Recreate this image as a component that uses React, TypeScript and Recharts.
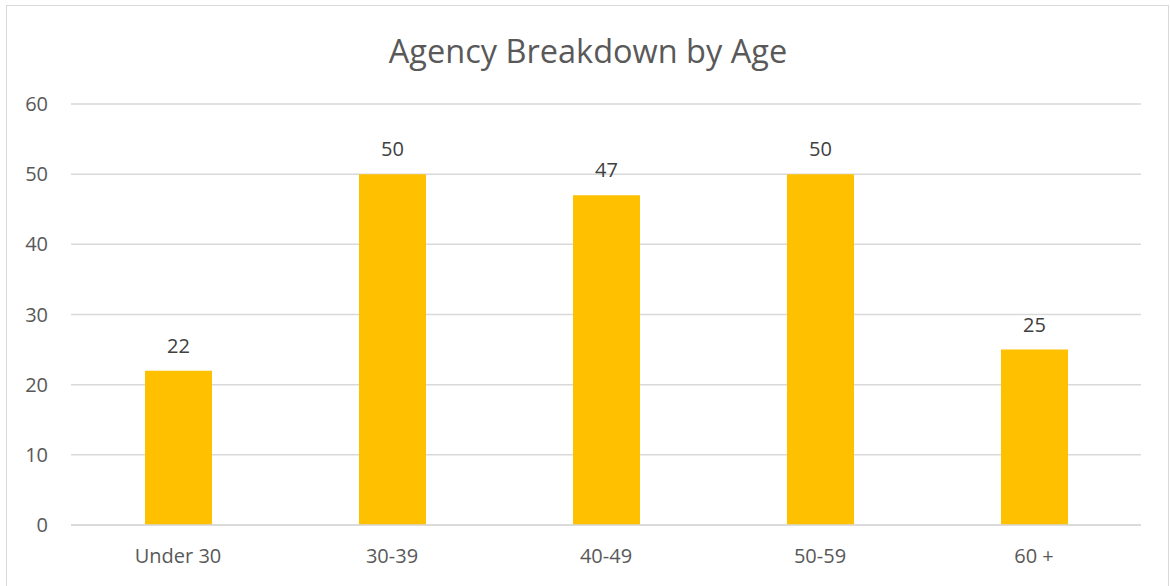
import React from 'react';
import { BarChart, Bar, XAxis, YAxis, CartesianGrid, LabelList } from 'recharts';

const ageGroups = ['Under 30', '30-39', '40-49', '50-59', '60 +'];
const headcount = [22, 50, 47, 50, 25];
const yTicks = [0, 10, 20, 30, 40, 50, 60];

const data = ageGroups.map((age, i) => ({ age, count: headcount[i] }));

const font = '"Open Sans", sans-serif';

export default function App() {
  return (
    <div style={{ position: 'relative', width: 1170, height: 586, overflow: 'hidden', background: '#fff', fontFamily: font }}>
      <style>{`body { margin: 0; overflow: hidden; }`}</style>
      <div
        style={{
          position: 'absolute',
          left: 6,
          top: 5,
          width: 1163,
          height: 600,
          boxSizing: 'border-box',
          border: '1px solid #d9d9d9',
        }}
      />
      <div
        style={{
          position: 'absolute',
          left: 0,
          top: 30,
          width: 1176,
          textAlign: 'center',
          fontSize: 32.5,
          lineHeight: '42px',
          color: '#595959',
        }}
      >
        Agency Breakdown by Age
      </div>
      <div style={{ position: 'absolute', left: 0, top: 0 }}>
        <BarChart width={1170} height={586} data={data} margin={{ top: 104, right: 29, left: 0, bottom: 0 }}>
          <CartesianGrid vertical={false} stroke="#d9d9d9" strokeWidth={1.5} />
          <XAxis
            dataKey="age"
            height={61}
            axisLine={{ stroke: '#d9d9d9', strokeWidth: 1.5 }}
            tickLine={false}
            tickSize={0}
            tickMargin={24}
            tick={{ fill: '#595959', fontSize: 20, fontFamily: font }}
          />
          <YAxis
            width={71}
            domain={[0, 60]}
            ticks={yTicks}
            axisLine={false}
            tickLine={false}
            tickSize={0}
            tickMargin={23}
            tick={{ fill: '#595959', fontSize: 20, fontFamily: font }}
          />
          <Bar dataKey="count" fill="#FFC000" barSize={67} isAnimationActive={false}>
            <LabelList dataKey="count" position="top" offset={18} fill="#404040" fontSize={20} fontFamily={font} />
          </Bar>
        </BarChart>
      </div>
    </div>
  );
}
